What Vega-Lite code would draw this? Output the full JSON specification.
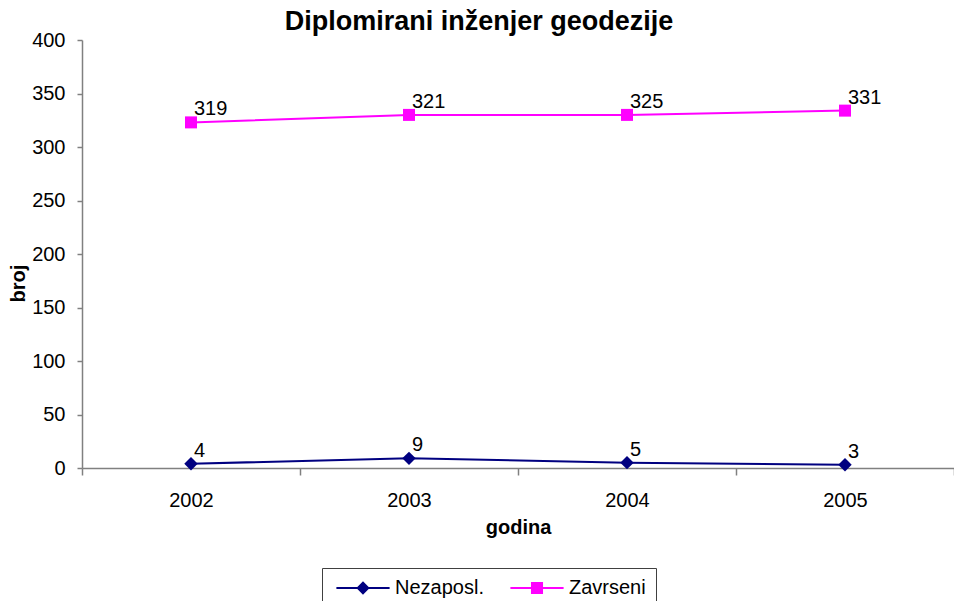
{
  "$schema": "https://vega.github.io/schema/vega-lite/v6.json",
  "width": 872,
  "height": 428,
  "autosize": {"type": "none"},
  "padding": {"left": 82, "top": 40, "right": 0, "bottom": 133},
  "background": "white",
  "title": {
    "text": "Diplomirani inženjer geodezije",
    "font": "Liberation Sans",
    "fontSize": 27,
    "fontWeight": "bold",
    "color": "black",
    "anchor": "middle",
    "frame": "group",
    "dx": -39,
    "dy": 34,
    "baseline": "alphabetic",
    "offset": 7
  },
  "config": {
    "view": {"stroke": null},
    "font": "Liberation Sans",
    "axis": {
      "labelFont": "Liberation Sans",
      "titleFont": "Liberation Sans",
      "labelFontSize": 20,
      "titleFontSize": 20,
      "titleFontWeight": "bold",
      "labelColor": "black",
      "titleColor": "black",
      "domainColor": "#808080",
      "tickColor": "#808080",
      "domainWidth": 1.5,
      "tickWidth": 1.5,
      "grid": false
    }
  },
  "data": {
    "values": [
      {"godina": "2002", "serija": "Nezaposl.", "broj": 4},
      {"godina": "2003", "serija": "Nezaposl.", "broj": 9},
      {"godina": "2004", "serija": "Nezaposl.", "broj": 5},
      {"godina": "2005", "serija": "Nezaposl.", "broj": 3},
      {"godina": "2002", "serija": "Zavrseni", "broj": 319},
      {"godina": "2003", "serija": "Zavrseni", "broj": 321},
      {"godina": "2004", "serija": "Zavrseni", "broj": 325},
      {"godina": "2005", "serija": "Zavrseni", "broj": 331}
    ]
  },
  "transform": [
    {"stack": "broj", "groupby": ["godina"], "sort": [{"field": "serija", "order": "ascending"}], "as": ["y0", "y1"]}
  ],
  "encoding": {
    "x": {
      "field": "godina",
      "type": "ordinal",
      "bandPosition": 0.5,
      "scale": {"type": "band", "paddingInner": 0, "paddingOuter": 0},
      "axis": {
        "title": "godina",
        "labelAngle": 0,
        "tickBand": "extent",
        "tickSize": 7,
        "labelPadding": 15,
        "titleBaseline": "alphabetic",
        "titleY": 65
      }
    },
    "y": {
      "field": "y1",
      "type": "quantitative",
      "stack": null,
      "scale": {"domain": [0, 400], "nice": false},
      "axis": {
        "title": "broj",
        "values": [0, 50, 100, 150, 200, 250, 300, 350, 400],
        "tickSize": 5,
        "labelPadding": 12,
        "titleBaseline": "alphabetic",
        "titleX": -58,
        "titleY": 243,
        "titleAngle": -90
      }
    }
  },
  "layer": [
    {
      "mark": {"type": "line", "strokeWidth": 2},
      "encoding": {
        "color": {
          "field": "serija",
          "type": "nominal",
          "scale": {"domain": ["Nezaposl.", "Zavrseni"], "range": ["#000080", "#FF00FF"]},
          "legend": {
            "title": null,
            "orient": "none",
            "legendX": 240,
            "legendY": 528,
            "direction": "horizontal",
            "padding": 10,
            "strokeColor": "#404040",
            "fillColor": "white",
            "labelFont": "Liberation Sans",
            "labelFontSize": 20,
            "labelColor": "black",
            "symbolSize": 196,
            "symbolStrokeWidth": 0,
            "symbolOffset": 21,
            "labelOffset": 22,
            "columnPadding": 22,
            "encode": {
              "symbols": {
                "update": {
                  "shape": {"signal": "datum.value === 'Nezaposl.' ? 'M-3.8,-0.14H3.8V0.14H-3.8ZM-0.95,0L0,-0.95L0.95,0L0,0.95Z' : 'M-3.8,-0.14H3.8V0.14H-3.8ZM-0.86,-0.86H0.86V0.86H-0.86Z'"},
                  "fill": {"signal": "scale('color', datum.value)"},
                  "size": {"value": 196},
                  "opacity": {"value": 1},
                  "fillOpacity": {"value": 1}
                }
              }
            }
          }
        }
      }
    },
    {
      "transform": [{"filter": "datum.serija === 'Nezaposl.'"}],
      "mark": {"type": "point", "filled": true, "opacity": 1, "size": 180, "shape": "diamond", "color": "#000080"}
    },
    {
      "transform": [{"filter": "datum.serija === 'Zavrseni'"}],
      "mark": {"type": "point", "filled": true, "opacity": 1, "size": 144, "shape": "square", "color": "#FF00FF"}
    },
    {
      "mark": {"type": "text", "align": "left", "baseline": "alphabetic", "dx": 3, "dy": -7, "fontSize": 20, "font": "Liberation Sans", "color": "black"},
      "encoding": {
        "text": {"field": "broj", "type": "quantitative"}
      }
    }
  ]
}
